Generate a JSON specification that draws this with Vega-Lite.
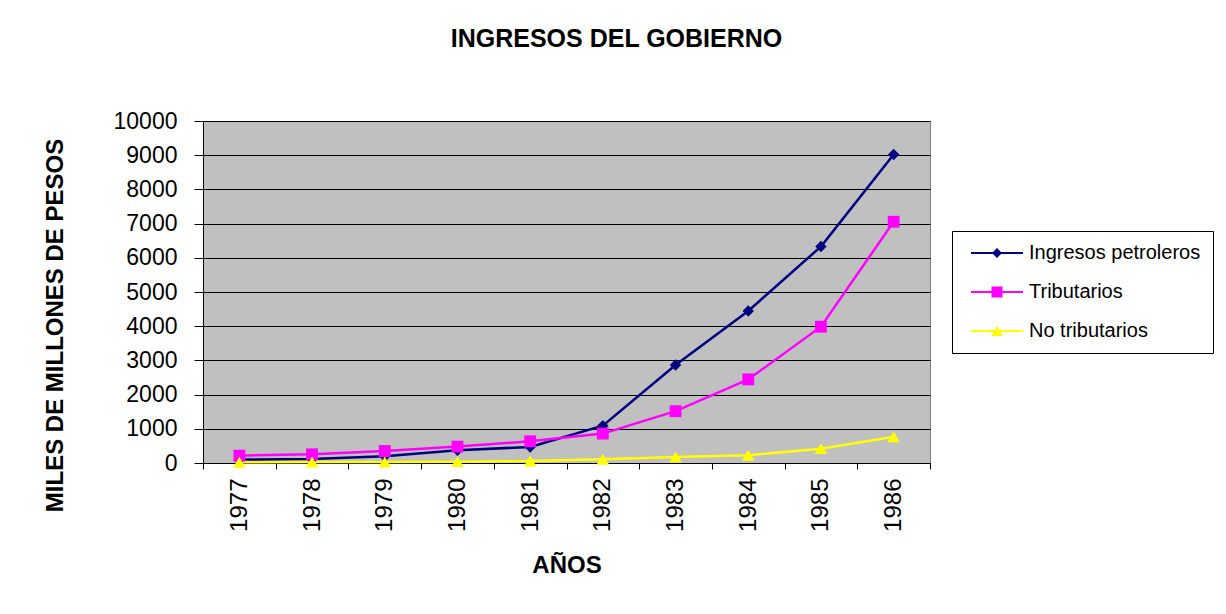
{
  "$schema": "https://vega.github.io/schema/vega-lite/v6.json",
  "width": 727,
  "height": 342,
  "autosize": {"type": "none"},
  "padding": {"left": 203, "top": 121, "right": 296, "bottom": 151},
  "background": "white",
  "title": {"text": "INGRESOS DEL GOBIERNO", "fontSize": 25, "font": "Liberation Sans", "fontWeight": "bold", "anchor": "middle", "dx": 50, "offset": 38, "baseline": "alphabetic", "color": "black"},
  "config": {
    "font": "Liberation Sans",
    "view": {"fill": "#C0C0C0", "stroke": "#808080", "strokeWidth": 1},
    "legend": {
      "orient": "none", "legendX": 749, "legendY": 110,
      "symbolSize": 400, "symbolStrokeWidth": 0, "symbolOpacity": 1, "symbolOffset": 23,
      "labelFontSize": 20, "labelColor": "black", "labelOffset": 22, "labelLimit": 400,
      "padding": 12, "rowPadding": 19, "strokeColor": "black", "fillColor": "white"
    }
  },
  "data": {"values": [
    {"anio": "1977", "serie": "Ingresos petroleros", "valor": 100},
    {"anio": "1978", "serie": "Ingresos petroleros", "valor": 120},
    {"anio": "1979", "serie": "Ingresos petroleros", "valor": 195},
    {"anio": "1980", "serie": "Ingresos petroleros", "valor": 370},
    {"anio": "1981", "serie": "Ingresos petroleros", "valor": 470},
    {"anio": "1982", "serie": "Ingresos petroleros", "valor": 1090},
    {"anio": "1983", "serie": "Ingresos petroleros", "valor": 2865},
    {"anio": "1984", "serie": "Ingresos petroleros", "valor": 4445},
    {"anio": "1985", "serie": "Ingresos petroleros", "valor": 6330},
    {"anio": "1986", "serie": "Ingresos petroleros", "valor": 9020},
    {"anio": "1977", "serie": "Tributarios", "valor": 215},
    {"anio": "1978", "serie": "Tributarios", "valor": 255},
    {"anio": "1979", "serie": "Tributarios", "valor": 350},
    {"anio": "1980", "serie": "Tributarios", "valor": 480},
    {"anio": "1981", "serie": "Tributarios", "valor": 635},
    {"anio": "1982", "serie": "Tributarios", "valor": 860},
    {"anio": "1983", "serie": "Tributarios", "valor": 1515},
    {"anio": "1984", "serie": "Tributarios", "valor": 2445},
    {"anio": "1985", "serie": "Tributarios", "valor": 3985},
    {"anio": "1986", "serie": "Tributarios", "valor": 7055},
    {"anio": "1977", "serie": "No tributarios", "valor": 20},
    {"anio": "1978", "serie": "No tributarios", "valor": 30},
    {"anio": "1979", "serie": "No tributarios", "valor": 30},
    {"anio": "1980", "serie": "No tributarios", "valor": 40},
    {"anio": "1981", "serie": "No tributarios", "valor": 60},
    {"anio": "1982", "serie": "No tributarios", "valor": 110},
    {"anio": "1983", "serie": "No tributarios", "valor": 175},
    {"anio": "1984", "serie": "No tributarios", "valor": 225},
    {"anio": "1985", "serie": "No tributarios", "valor": 420},
    {"anio": "1986", "serie": "No tributarios", "valor": 770}
  ]},
  "encoding": {
    "x": {
      "field": "anio", "type": "ordinal", "bandPosition": 0.5,
      "scale": {"type": "band", "paddingInner": 0, "paddingOuter": 0},
      "axis": {
        "labelAngle": 270, "labelAlign": "right", "labelBaseline": "middle",
        "labelFontSize": 24, "labelColor": "black", "labelPadding": 9,
        "tickBand": "extent", "tickSize": 6, "tickColor": "black",
        "domainColor": "black", "grid": false,
        "title": "AÑOS", "titleFontSize": 24, "titleFontWeight": "bold", "titleColor": "black",
        "titleX": 363.5, "titleY": 109, "titleAlign": "center", "titleBaseline": "alphabetic"
      }
    },
    "y": {
      "field": "valor", "type": "quantitative",
      "scale": {"domain": [0, 10000], "nice": false},
      "axis": {
        "values": [0, 1000, 2000, 3000, 4000, 5000, 6000, 7000, 8000, 9000, 10000],
        "format": "d",
        "grid": true, "gridColor": "black", "gridWidth": 1, "gridOpacity": 1,
        "labelFontSize": 23, "labelColor": "black", "labelPadding": 17,
        "tickSize": 9, "tickColor": "black", "domainColor": "black",
        "title": "MILES DE MILLONES DE PESOS", "titleFontSize": 24, "titleFontWeight": "bold", "titleColor": "black",
        "titleAngle": 270, "titleX": -141, "titleY": 204, "titleAlign": "center", "titleBaseline": "alphabetic"
      }
    }
  },
  "layer": [
    {
      "mark": {"type": "line", "strokeWidth": 2.5},
      "encoding": {
        "color": {"field": "serie", "type": "nominal", "title": null,
          "scale": {"domain": ["Ingresos petroleros", "Tributarios", "No tributarios"], "range": ["#000080", "#FF00FF", "#FFFF00"]}}
      }
    },
    {
      "transform": [{"filter": "datum.serie === 'Ingresos petroleros'"}],
      "mark": {"type": "point", "filled": true, "opacity": 1, "shape": "diamond", "size": 130, "color": "#000080"}
    },
    {
      "transform": [{"filter": "datum.serie === 'Tributarios'"}],
      "mark": {"type": "point", "filled": true, "opacity": 1, "shape": "square", "size": 140, "color": "#FF00FF"}
    },
    {
      "transform": [{"filter": "datum.serie === 'No tributarios'"}],
      "mark": {"type": "point", "filled": true, "opacity": 1, "shape": "triangle-up", "size": 160, "color": "#FFFF00"}
    },
    {
      "mark": {"type": "point", "filled": true, "opacity": 0},
      "encoding": {
        "color": {"field": "serie", "type": "nominal", "title": null},
        "shape": {"field": "serie", "type": "nominal", "title": null,
          "scale": {"domain": ["Ingresos petroleros", "Tributarios", "No tributarios"],
            "range": [
              "M-2.6,-0.1L2.6,-0.1L2.6,0.1L-2.6,0.1Z M0,-0.5L0.5,0L0,0.5L-0.5,0Z",
              "M-2.6,-0.1L2.6,-0.1L2.6,0.1L-2.6,0.1Z M-0.55,-0.55L0.55,-0.55L0.55,0.55L-0.55,0.55Z",
              "M-2.6,-0.1L2.6,-0.1L2.6,0.1L-2.6,0.1Z M0,-0.5L0.6,0.5L-0.6,0.5Z"
            ]},
          "legend": {
            "title": null,
            "encode": {"symbols": {"update": {"opacity": {"value": 1}, "fill": {"scale": "color", "field": "value"}}}}
          }
        }
      }
    }
  ]
}
